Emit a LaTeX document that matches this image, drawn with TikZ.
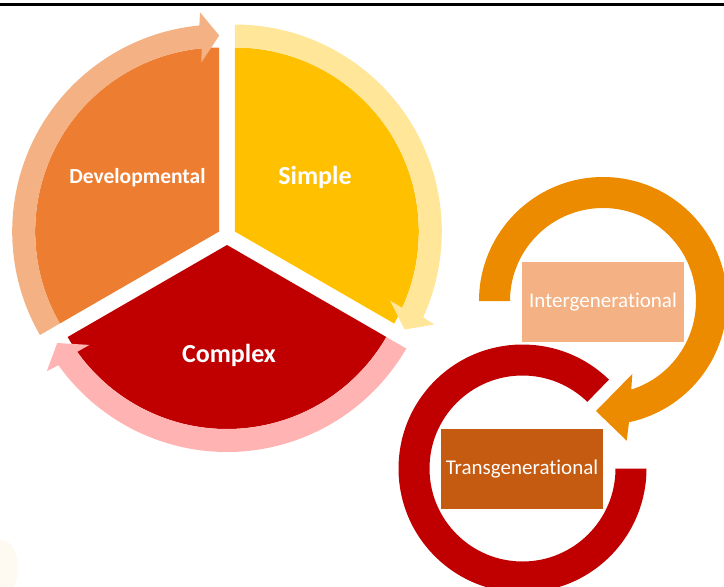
\documentclass[tikz,border=0pt]{standalone}
\usepackage{fontspec}
\setmainfont{Carlito}[Ligatures=CommonOff]
\usetikzlibrary{calc}

\definecolor{devorange}{HTML}{ED7D31}
\definecolor{devlight}{HTML}{F4B183}
\definecolor{simpyellow}{HTML}{FFC000}
\definecolor{simplight}{HTML}{FFE699}
\definecolor{compred}{HTML}{C00000}
\definecolor{complight}{HTML}{FFB3B3}
\definecolor{ringorange}{HTML}{ED8B00}
\definecolor{transbrown}{HTML}{C55A11}
\definecolor{cream}{HTML}{FFFAF1}

\tikzset{
    x=1pt, y=-1pt, % trace in pixel units, y runs downwards
    pielabel/.style={text=white, anchor=base, font=\bfseries\fontsize{26}{30}\selectfont}, % labels inside the pie
    genbox/.style={minimum width=162pt, minimum height=80pt, inner sep=0pt,
        text=white, font=\fontsize{21}{25}\selectfont}, % the two boxes on the right
}

% light band with arrow head round a sector: centre, start angle, tip angle, colour
\newcommand{\bandarrow}[4]{%
    \fill[#4] ($(#1)+(#2:184)$) -- ($(#1)+(#2:207)$)
        arc[start angle=#2, end angle=#3-5.5, radius=207]
        -- ($(#1)+(#3-5:220)$) -- ($(#1)+(#3:196)$) -- ($(#1)+(#3-6:170)$)
        -- ($(#1)+(#3-5.5:184)$)
        arc[start angle=#3-5.5, end angle=#2, radius=184] -- cycle;}

\begin{document}
\begin{tikzpicture}
    \useasboundingbox (0,0) rectangle (724,587);
    \draw[line width=2.5pt] (0,4.3) -- (724,4.3);
    \fill[cream] (2,568) ellipse[x radius=16, y radius=28];

    % pie pieces, each pushed out from the middle
    \coordinate (cdev) at (219.2,231.5);
    \coordinate (csimple) at (234.8,231.5);
    \coordinate (ccomplex) at (227,245);
    \fill[devorange] (cdev) -- ++(150:184) arc[start angle=150, end angle=270, radius=184] -- cycle;
    \fill[simpyellow] (csimple) -- ++(-90:184) arc[start angle=-90, end angle=30, radius=184] -- cycle;
    \fill[compred] (ccomplex) -- ++(30:184) arc[start angle=30, end angle=150, radius=184] -- cycle;
    \bandarrow{cdev}{150}{270}{devlight}
    \bandarrow{csimple}{-90}{30}{simplight}
    \bandarrow{ccomplex}{30}{150}{complight}
    \node[pielabel, font=\bfseries\fontsize{21.5}{26}\selectfont] (dev) at (137.5,183) {Developmental};
    \node[pielabel] (simple) at (315,184) {Simple};
    \node[pielabel] (complex) at (229,362.5) {Complex};

    % the two cycles on the right
    \coordinate (cinter) at (603,301);
    \coordinate (ctrans) at (522.5,468.5);
    \fill[ringorange] ($(cinter)+(180:124)$) arc[start angle=180, end angle=437.9, radius=124]
        -- (626.7,440.7) -- (596,411) -- (632.3,374)
        -- ($(cinter)+(432.3:93)$) arc[start angle=432.3, end angle=180, radius=93] -- cycle;
    \fill[compred] ($(ctrans)+(-45.8:124)$) arc[start angle=-45.8, end angle=-360, radius=124]
        -- ($(ctrans)+(0:93)$) arc[start angle=0, end angle=314.2, radius=93] -- cycle;
    \node[genbox, fill=devlight] (intergen) at (603,302) {Intergenerational};
    \node[genbox, fill=transbrown] (transgen) at (522,469) {Transgenerational};
\end{tikzpicture}
\end{document}
